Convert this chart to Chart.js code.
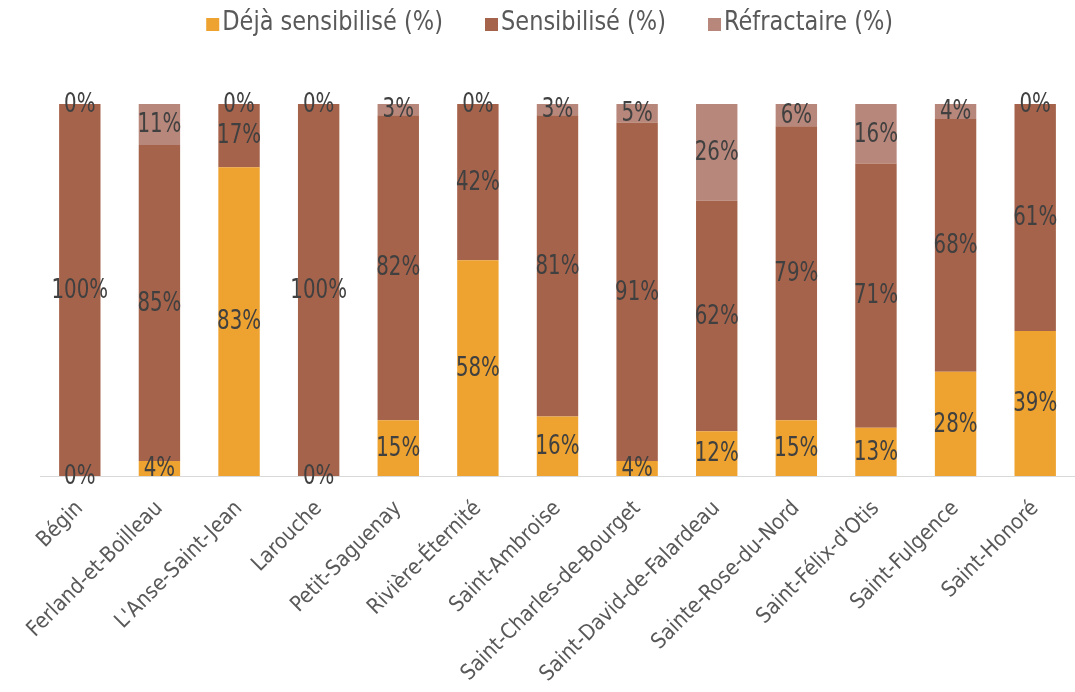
<!DOCTYPE html>
<html lang="fr">
<head>
<meta charset="utf-8">
<script src="https://cdn.jsdelivr.net/npm/chart.js@4/dist/chart.umd.min.js"></script>
<style>
  html, body { margin: 0; padding: 0; background: #fff; }
  #wrap { width: 1075px; height: 692px; overflow: hidden; }
</style>
</head>
<body>
<div id="wrap"><canvas id="chart" width="1075" height="692"></canvas></div>
<script>
// Municipalités
const categories = ['Bégin', 'Ferland-et-Boilleau', "L'Anse-Saint-Jean", 'Larouche', 'Petit-Saguenay',
  'Rivière-Éternité', 'Saint-Ambroise', 'Saint-Charles-de-Bourget', 'Saint-David-de-Falardeau',
  'Sainte-Rose-du-Nord', "Saint-Félix-d'Otis", 'Saint-Fulgence', 'Saint-Honoré'];

// Valeurs en %
const dejaSensibilise = [0, 4, 83, 0, 15, 58, 16, 4, 12, 15, 13, 28, 39];
const sensibilise = [100, 85, 17, 100, 82, 42, 81, 91, 62, 79, 71, 68, 61];
const refractaire = [0, 11, 0, 0, 3, 0, 3, 5, 26, 6, 16, 4, 0];

const seriesNames = ['Déjà sensibilisé (%)', 'Sensibilisé (%)', 'Réfractaire (%)'];
const seriesColors = ['#EEA22F', '#A6634B', '#B8877B'];

const FONT = "'DejaVu Sans Condensed', 'DejaVu Sans', sans-serif";

// Étiquettes de données au centre de chaque segment (texte un peu étiré en hauteur)
const barLabels = {
  id: 'barLabels',
  afterDatasetsDraw(chart) {
    const ctx = chart.ctx;
    ctx.save();
    ctx.font = '22px ' + FONT;
    ctx.fillStyle = '#404040';
    ctx.textAlign = 'center';
    ctx.textBaseline = 'middle';
    chart.data.datasets.forEach((ds, i) => {
      chart.getDatasetMeta(i).data.forEach((bar, j) => {
        const y = (bar.y + bar.base) / 2;
        ctx.save();
        ctx.translate(bar.x, y + 1);
        ctx.scale(1, 1.19);
        ctx.fillText(ds.data[j] + '%', 0, 0);
        ctx.restore();
      });
    });
    ctx.restore();
  }
};

// Légende dessinée à la main (carré + texte), ancrée sur le 2e élément
const topLegend = {
  id: 'topLegend',
  afterDraw(chart) {
    const ctx = chart.ctx;
    const box = 13, gap = 3, itemGap = 42;
    ctx.save();
    ctx.font = '25px ' + FONT;
    ctx.textBaseline = 'alphabetic';
    ctx.textAlign = 'left';
    const widths = chart.data.datasets.map(ds => ctx.measureText(ds.label).width);
    // position du 2e carré dans la référence
    let x = 485 - (box + gap + widths[0] + itemGap);
    chart.data.datasets.forEach((ds, i) => {
      ctx.fillStyle = ds.backgroundColor;
      ctx.fillRect(x, 18, box, box);
      ctx.fillStyle = '#595959';
      ctx.save();
      ctx.translate(x + box + gap, 30);
      ctx.scale(1, 1.08);
      ctx.fillText(ds.label, 0, 0);
      ctx.restore();
      x += box + gap + widths[i] + itemGap;
    });
    ctx.restore();
  }
};

const ctx = document.getElementById('chart').getContext('2d');
new Chart(ctx, {
  type: 'bar',
  data: {
    labels: categories,
    datasets: [
      { label: seriesNames[0], data: dejaSensibilise, backgroundColor: seriesColors[0] },
      { label: seriesNames[1], data: sensibilise, backgroundColor: seriesColors[1] },
      { label: seriesNames[2], data: refractaire, backgroundColor: seriesColors[2] }
    ]
  },
  options: {
    responsive: false,
    animation: false,
    layout: { padding: { left: 40, right: -12, top: 104, bottom: 0 } },
    datasets: { bar: { barPercentage: 0.52, categoryPercentage: 1 } },
    scales: {
      x: {
        stacked: true,
        grid: { display: false },
        border: { display: true, color: '#D9D9D9', width: 1 },
        ticks: {
          autoSkip: false,
          minRotation: 45,
          maxRotation: 45,
          padding: 12,
          color: '#595959',
          font: { family: FONT, size: 21.5 }
        },
        afterFit(scale) { scale.height = 216; }
      },
      y: {
        stacked: true,
        display: false,
        min: 0,
        max: 100
      }
    },
    plugins: {
      legend: { display: false },
      tooltip: { enabled: false }
    }
  },
  plugins: [barLabels, topLegend]
});
</script>
</body>
</html>
